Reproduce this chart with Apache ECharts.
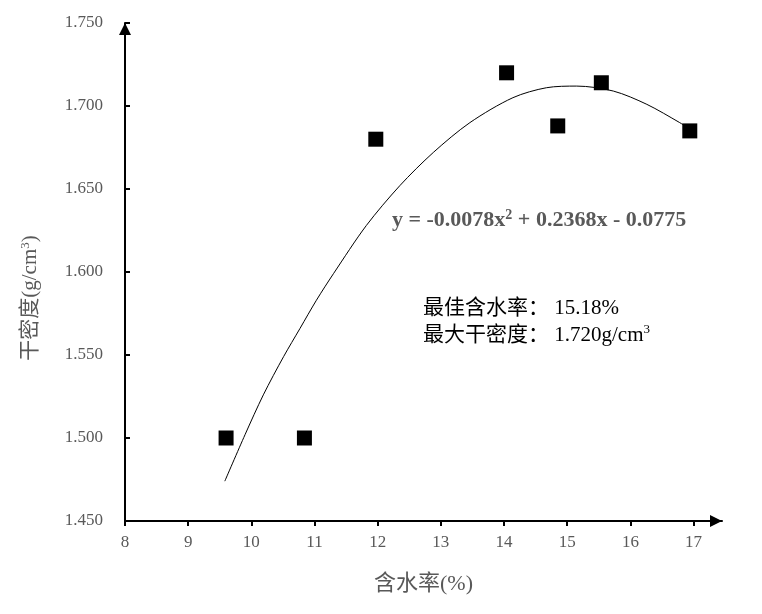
<!DOCTYPE html>
<html>
<head>
<meta charset="utf-8">
<script src="https://cdn.jsdelivr.net/npm/echarts@6/dist/echarts.min.js"></script>
<style>html,body{margin:0;padding:0;background:#fff}#c{width:762px;height:614px}</style>
</head>
<body>
<div id="c"></div>
<script>
// measured points: moisture content (%) and dry density (g/cm3)
const moisture = [9.60, 10.84, 11.97, 14.04, 14.85, 15.54, 16.94];
const density  = [1.500, 1.500, 1.680, 1.720, 1.688, 1.714, 1.685];
// trendline
const trendX = [9.58, 9.90, 10.19, 10.51, 10.77, 11.03, 11.30, 11.82, 12.35, 12.88, 13.46, 14.14, 14.67, 15.15, 15.73, 16.26, 16.78, 16.99];
const trendY = [1.474, 1.502, 1.526, 1.549, 1.566, 1.583, 1.599, 1.628, 1.652, 1.672, 1.690, 1.705, 1.711, 1.712, 1.709, 1.701, 1.690, 1.685];
const xTicks = [8, 9, 10, 11, 12, 13, 14, 15, 16, 17];
const xName = '含水率(%)';
const yName = '干密度(g/cm{sup|3})';
const equation = 'y = -0.0078x{sup|2} + 0.2368x - 0.0775';
const note1 = '最佳含水率： 15.18%';
const note2 = '最大干密度： 1.720g/cm{sup|3}';

const FONT = '"Liberation Serif", "Times New Roman", "Noto Sans CJK SC", serif';
const chart = echarts.init(document.getElementById('c'), null, {renderer: 'canvas'});
chart.setOption({
  animation: false,
  backgroundColor: '#fff',
  grid: {left: 125, right: 40, top: 23, bottom: 93},
  xAxis: {
    type: 'value', min: 8, max: 17.45, interval: 1,
    name: xName, nameLocation: 'middle', nameGap: 52,
    nameTextStyle: {fontFamily: FONT, fontSize: 22, color: '#595959'},
    axisLine: {lineStyle: {color: '#000', width: 2}, symbol: ['none', 'triangle'], symbolSize: [12, 12], symbolOffset: [0, -6]},
    axisTick: {show: true, length: 5, lineStyle: {color: '#000', width: 2}, customValues: xTicks},
    axisLabel: {customValues: xTicks, margin: 13, fontFamily: FONT, fontSize: 17, color: '#595959',
      formatter: v => (Math.abs(v - Math.round(v)) < 1e-6 ? String(Math.round(v)) : '')},
    splitLine: {show: false}
  },
  yAxis: {
    type: 'value', min: 1.45, max: 1.75, interval: 0.05,
    name: yName, nameLocation: 'middle', nameGap: 84, nameRotate: 90,
    nameTextStyle: {fontFamily: FONT, fontSize: 21, color: '#595959', padding: [0, 52, 0, 0],
      rich: {sup: {fontFamily: FONT, fontSize: 13, color: '#595959', verticalAlign: 'top', lineHeight: 22}}},
    axisLine: {lineStyle: {color: '#000', width: 2}, symbol: ['none', 'triangle'], symbolSize: [12, 12], symbolOffset: [0, -6]},
    axisTick: {show: true, inside: true, length: 5, lineStyle: {color: '#000', width: 2}},
    axisLabel: {margin: 22, fontFamily: FONT, fontSize: 17, color: '#595959', formatter: v => v.toFixed(3)},
    splitLine: {show: false}
  },
  series: [
    {
      type: 'line', data: trendX.map((x, i) => [x, trendY[i]]), smooth: 0.3, showSymbol: false,
      lineStyle: {color: '#000', width: 1}, z: 2
    },
    {
      type: 'scatter', data: moisture.map((x, i) => [x, density[i]]), symbol: 'rect', symbolSize: 15,
      itemStyle: {color: '#000', opacity: 1}, z: 3
    }
  ],
  graphic: [
    {type: 'text', left: 392, top: 208, style: {text: equation, font: 'bold 22px ' + FONT, fill: '#595959',
      rich: {sup: {font: 'bold 14px ' + FONT, fill: '#595959', verticalAlign: 'top', lineHeight: 24}}}},
    {type: 'text', left: 423, top: 298, style: {text: note1, font: '21px ' + FONT, fill: '#000'}},
    {type: 'text', left: 423, top: 323, style: {text: note2, font: '21px ' + FONT, fill: '#000',
      rich: {sup: {font: '13px ' + FONT, fill: '#000', verticalAlign: 'top', lineHeight: 24}}}}
  ]
});
</script>
</body>
</html>
